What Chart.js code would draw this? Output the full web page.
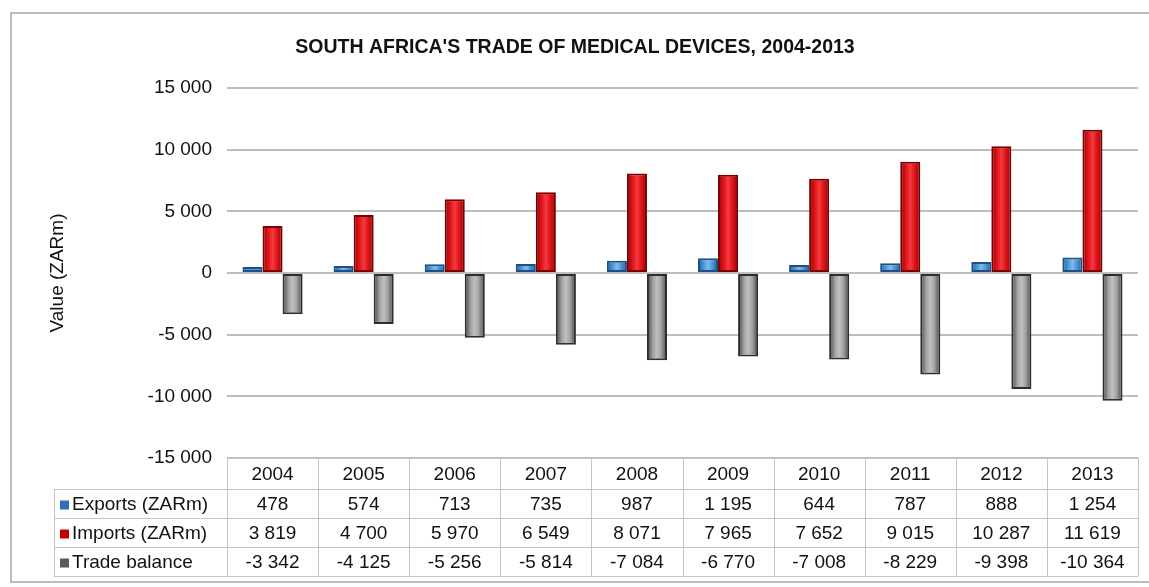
<!DOCTYPE html>
<html>
<head>
<meta charset="utf-8">
<script src="https://cdn.jsdelivr.net/npm/chart.js@4.4.0/dist/chart.umd.min.js"></script>
<style>
  html, body { margin: 0; padding: 0; background: #fff; }
  #wrap { width: 1149px; height: 587px; }
</style>
</head>
<body>
<div id="wrap"><canvas id="tradeChart" width="1149" height="587"></canvas></div>
<script>
const years = ['2004', '2005', '2006', '2007', '2008', '2009', '2010', '2011', '2012', '2013'];
const exportsZar = [478, 574, 713, 735, 987, 1195, 644, 787, 888, 1254];
const importsZar = [3819, 4700, 5970, 6549, 8071, 7965, 7652, 9015, 10287, 11619];
const tradeBalance = [-3342, -4125, -5256, -5814, -7084, -6770, -7008, -8229, -9398, -10364];
const seriesNames = ['Exports (ZARm)', 'Imports (ZARm)', 'Trade balance'];
const yTicks = [-15000, -10000, -5000, 0, 5000, 10000, 15000];

const FONT = '"Liberation Sans", Arial, sans-serif';

function fmt(v) {
    const s = Math.abs(v).toString().replace(/\B(?=(\d{3})+(?!\d))/g, ' ');
    return (v < 0 ? '-' : '') + s;
}

// bar colours: [body, edge, light centre, legend key]
const palette = [
    ['#4f9ad8', '#1d4f86', '#a9d6f5', '#2f6fb8'],
    ['#e3161c', '#7a0000', '#ff5a5a', '#c00000'],
    ['#a3a3a3', '#2e2e2e', '#d8d8d8', '#5a5a5a']
];

// shade each bar like a cylinder using the positions the library computed
const cylinderShade = {
    id: 'cylinderShade',
    afterDatasetsDraw(chart) {
        const c = chart.ctx;
        chart.data.datasets.forEach((ds, di) => {
            const meta = chart.getDatasetMeta(di);
            meta.data.forEach(bar => {
                const p = bar.getProps(['x', 'y', 'base', 'width'], true);
                const x0 = p.x - p.width / 2 + 2, x1 = p.x + p.width / 2 - 2;
                const top = Math.min(p.y, p.base) + 2, bot = Math.max(p.y, p.base) - 2;
                if (bot - top < 1) return;
                const g = c.createLinearGradient(x0, 0, x1, 0);
                g.addColorStop(0, palette[di][1]);
                g.addColorStop(0.25, palette[di][0]);
                g.addColorStop(0.5, palette[di][2]);
                g.addColorStop(0.75, palette[di][0]);
                g.addColorStop(1, palette[di][1]);
                c.save();
                c.fillStyle = g;
                c.globalAlpha = 0.55;
                c.fillRect(x0, top, x1 - x0, bot - top);
                c.restore();
            });
        });
    }
};

// data table below the plot plus title and frame
const tablePlugin = {
    id: 'tablePlugin',
    afterDraw(chart) {
        const c = chart.ctx;
        const area = chart.chartArea;
        const xs = chart.scales.x;
        const colW = (area.right - area.left) / years.length;
        const labelLeft = 54;
        const rows = [area.bottom, area.bottom + 31, area.bottom + 60, area.bottom + 89, area.bottom + 118];

        c.save();
        // outer frame
        c.strokeStyle = '#bdbdbd';
        c.lineWidth = 2;
        c.beginPath();
        c.moveTo(1149, 13); c.lineTo(11, 13); c.lineTo(11, 582); c.lineTo(1149, 582);
        c.stroke();

        // title
        c.fillStyle = '#111';
        c.font = 'bold 19.5px ' + FONT;
        c.textAlign = 'center';
        c.textBaseline = 'middle';
        c.fillText("SOUTH AFRICA'S TRADE OF MEDICAL DEVICES, 2004-2013", 575, 48);

        // grid of the table
        c.strokeStyle = '#c4c4c4';
        c.lineWidth = 1;
        c.beginPath();
        c.moveTo(area.left, rows[0] + 0.5); c.lineTo(area.right, rows[0] + 0.5);
        for (let r = 1; r < rows.length; r++) {
            c.moveTo(labelLeft, rows[r] + 0.5); c.lineTo(area.right, rows[r] + 0.5);
        }
        c.moveTo(labelLeft + 0.5, rows[1]); c.lineTo(labelLeft + 0.5, rows[4]);
        for (let i = 0; i <= years.length; i++) {
            const x = Math.round(area.left + i * colW) + 0.5;
            c.moveTo(x, rows[0]); c.lineTo(x, rows[4]);
        }
        c.stroke();

        // header years
        c.font = '19px ' + FONT;
        c.fillStyle = '#111';
        years.forEach((y, i) => {
            c.fillText(y, xs.getPixelForValue(i), (rows[0] + rows[1]) / 2 + 1);
        });

        // data rows
        const series = [exportsZar, importsZar, tradeBalance];
        series.forEach((vals, r) => {
            const cy = (rows[r + 1] + rows[r + 2]) / 2 + 1;
            c.fillStyle = palette[r][3];
            c.fillRect(labelLeft + 6, cy - 4, 9, 9);
            c.fillStyle = '#111';
            c.textAlign = 'left';
            c.fillText(seriesNames[r], labelLeft + 18, cy);
            c.textAlign = 'center';
            vals.forEach((v, i) => c.fillText(fmt(v), xs.getPixelForValue(i), cy));
        });
        c.restore();
    }
};

const ctx = document.getElementById('tradeChart');
new Chart(ctx, {
    type: 'bar',
    data: {
        labels: years,
        datasets: [exportsZar, importsZar, tradeBalance].map((d, i) => ({
            label: seriesNames[i],
            data: d,
            backgroundColor: palette[i][0],
            borderColor: palette[i][1],
            borderWidth: 2,
            borderSkipped: false,
            categoryPercentage: 0.66,
            barPercentage: 1.0
        }))
    },
    options: {
        responsive: false,
        devicePixelRatio: 1,
        animation: false,
        layout: { padding: { left: 42, top: 88, right: 11, bottom: 129 } },
        scales: {
            x: { display: false },
            y: {
                min: -15000,
                max: 15000,
                afterFit(scale) { scale.width = 185; },
                afterBuildTicks(scale) { scale.ticks = yTicks.map(v => ({ value: v })); },
                ticks: {
                    padding: 15,
                    color: '#111',
                    font: { family: FONT, size: 19 },
                    callback: v => fmt(v)
                },
                grid: { color: '#bebebe', lineWidth: 2, drawTicks: false },
                border: { display: false },
                title: {
                    display: true,
                    text: 'Value (ZARm)',
                    color: '#111',
                    font: { family: FONT, size: 19 },
                    padding: { top: 4, bottom: 4 }
                }
            }
        },
        plugins: {
            legend: { display: false },
            title: { display: false },
            tooltip: { enabled: false }
        }
    },
    plugins: [cylinderShade, tablePlugin]
});
</script>
</body>
</html>
